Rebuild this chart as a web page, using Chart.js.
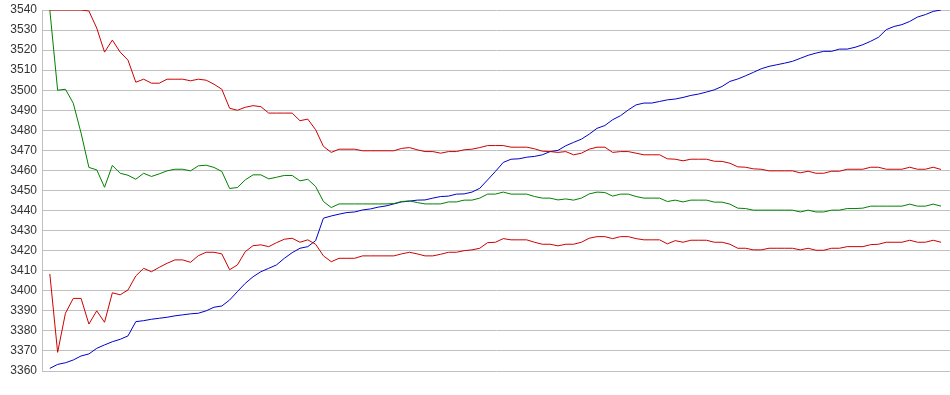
<!DOCTYPE html>
<html>
<head>
<meta charset="utf-8">
<script src="https://cdn.jsdelivr.net/npm/chart.js@4"></script>
<style>
  html, body { margin: 0; padding: 0; background: #fff; }
  #wrap { width: 950px; height: 395px; }
</style>
</head>
<body>
<div id="wrap"><canvas id="chart" width="950" height="395"></canvas></div>
<script>
// y axis ticks
const yMin = 3360
const yMax = 3540
const yStep = 10

// series values, one per step (115 steps)
const redUpper = [
  3540, 3540, 3540, 3540, 3540, 3539.5, 3531, 3519, 3525, 3519,
  3515, 3504, 3505.5, 3503.5, 3503.5, 3505.5, 3505.5, 3505.5, 3504.7, 3505.5,
  3505, 3503, 3500.5, 3491, 3490, 3491.5, 3492.3, 3491.8, 3488.6, 3488.6,
  3488.6, 3488.6, 3484.8, 3485.6, 3480.3, 3472, 3469, 3470.6, 3470.6, 3470.6,
  3469.8, 3469.8, 3469.8, 3469.8, 3469.8, 3471, 3471.4, 3470.3, 3469.4, 3469.4,
  3468.6, 3469.4, 3469.4, 3470.3, 3470.6, 3471.4, 3472.4, 3472.4, 3472.4, 3471.6,
  3471.6, 3471.6, 3470.8, 3469.6, 3469.4, 3469, 3469.4, 3467.8, 3468.6, 3470.6,
  3471.6, 3471.6, 3469, 3469.4, 3469.4, 3468.6, 3467.8, 3467.8, 3467.8, 3465.8,
  3465.6, 3464.8, 3465.6, 3465.6, 3465.6, 3464.6, 3464.5, 3463.6, 3461.8, 3461.6,
  3460.8, 3460.6, 3459.8, 3459.8, 3459.8, 3459.8, 3458.8, 3459.6, 3458.6, 3458.6,
  3459.6, 3459.6, 3460.6, 3460.6, 3460.6, 3461.6, 3461.6, 3460.6, 3460.6, 3460.6,
  3461.6, 3460.6, 3460.6, 3461.6, 3460.5
]
const green = [
  3540, 3500, 3500.5, 3493.5, 3478.6, 3461.5, 3460.3, 3451.6, 3462.5, 3458.6,
  3457.6, 3455.6, 3458.6, 3457, 3458.3, 3459.8, 3460.6, 3460.6, 3459.8, 3462.3,
  3462.6, 3461.5, 3459.5, 3451, 3451.5, 3455.3, 3457.8, 3457.8, 3455.8, 3456.6,
  3457.5, 3457.5, 3454.8, 3455.6, 3452, 3444.5, 3441.5, 3443.3, 3443.3, 3443.3,
  3443.3, 3443.3, 3443.3, 3443.3, 3443.5, 3444.5, 3444.8, 3444, 3443.3, 3443.3,
  3443.3, 3444.3, 3444.3, 3445.2, 3445.2, 3446.2, 3448.2, 3448.2, 3449.2, 3448.2,
  3448.2, 3448.2, 3447, 3446.2, 3446.2, 3445.3, 3445.8, 3445.2, 3446.2, 3448.3,
  3449.2, 3449, 3447.2, 3448.2, 3448.2, 3447, 3446.2, 3446.2, 3446.2, 3444.5,
  3445.2, 3444.3, 3445.2, 3445.2, 3445.2, 3444.2, 3444.2, 3443.2, 3441.2, 3441,
  3440.2, 3440.2, 3440.2, 3440.2, 3440.2, 3440.2, 3439.3, 3440.2, 3439.3, 3439.3,
  3440.2, 3440.2, 3441, 3441, 3441.2, 3442.2, 3442.2, 3442.2, 3442.2, 3442.2,
  3443.2, 3442.2, 3442.2, 3443.2, 3442.2
]
const redLower = [
  3408.4, 3369.3, 3388.8, 3396.2, 3396.2, 3383.4, 3390, 3384.3, 3399, 3398,
  3400.4, 3407.4, 3411.2, 3409.5, 3411.7, 3413.7, 3415.4, 3415.4, 3414.2, 3417.5,
  3419.2, 3419.2, 3418.4, 3410.5, 3412.9, 3419.5, 3422.5, 3422.9, 3422, 3424,
  3425.7, 3426.2, 3424.2, 3425.4, 3423.2, 3417.4, 3414.5, 3416.2, 3416.2, 3416.2,
  3417.4, 3417.4, 3417.4, 3417.4, 3417.4, 3418.4, 3419.2, 3418.4, 3417.4, 3417.4,
  3418.2, 3419.2, 3419.2, 3420, 3420.4, 3421.2, 3424, 3424.2, 3426, 3425.4,
  3425.4, 3425.4, 3424.2, 3423.2, 3423.2, 3422.4, 3423.2, 3423.2, 3424.2, 3426.2,
  3427, 3427, 3426, 3427, 3427, 3426, 3425.4, 3425.4, 3425.4, 3423.4,
  3425, 3424.2, 3425.2, 3425.2, 3425.2, 3424.2, 3424.2, 3423.2, 3421.2, 3421.2,
  3420.4, 3420.4, 3421.2, 3421.2, 3421.2, 3421.2, 3420.4, 3421.2, 3420.2, 3420.2,
  3421.2, 3421.2, 3422, 3422, 3422, 3423, 3423.2, 3424.2, 3424.2, 3424.2,
  3425.2, 3424.2, 3424.2, 3425.2, 3424.2
]
const blue = [
  3361.3, 3363.3, 3364.1, 3365.5, 3367.5, 3368.5, 3371.3, 3373, 3374.6, 3375.8,
  3377.5, 3384.6, 3385.1, 3385.8, 3386.3, 3386.8, 3387.5, 3388, 3388.5, 3388.8,
  3390, 3391.8, 3392.4, 3395.4, 3399.6, 3403.7, 3407, 3409.5, 3411.2, 3412.9,
  3416.2, 3419, 3421.2, 3422, 3425, 3436.2, 3437.3, 3438.2, 3439, 3439.3,
  3440.3, 3440.8, 3441.7, 3442.3, 3443.3, 3444.3, 3444.7, 3445.2, 3445.3, 3446.2,
  3447, 3447.2, 3448.2, 3448.3, 3449.2, 3451.1, 3455.3, 3459.5, 3464, 3465.6,
  3465.8, 3466.6, 3467, 3467.8, 3469.4, 3470, 3472.3, 3474, 3475.6, 3478.1,
  3481, 3482.4, 3485.3, 3487.3, 3490.2, 3492.7, 3493.6, 3493.6, 3494.4, 3495.2,
  3495.6, 3496.4, 3497.4, 3498.1, 3499.1, 3500.2, 3501.9, 3504.4, 3505.6, 3507.2,
  3508.9, 3510.7, 3511.9, 3512.7, 3513.5, 3514.4, 3515.9, 3517.4, 3518.5, 3519.4,
  3519.4, 3520.5, 3520.5, 3521.4, 3522.7, 3524.4, 3526.4, 3530.2, 3531.8, 3532.7,
  3534.3, 3536.5, 3537.7, 3539.3, 3540
]

// turn a value list into {x, y} points (x = step index)
function toPoints(values) {
  return values.map((v, i) => ({ x: i, y: v }))
}

function line(values, color) {
  return {
    data: toPoints(values),
    borderColor: color,
    backgroundColor: color,
    borderWidth: 1,
    pointRadius: 0,
    tension: 0,
    fill: false
  }
}

Chart.defaults.font.family = "'Liberation Sans', Arial, sans-serif"
Chart.defaults.font.size = 12
Chart.defaults.color = '#333'

const chart = new Chart(document.getElementById('chart'), {
  type: 'line',
  data: {
    datasets: [
      line(redUpper, '#cc0000'),
      line(green, '#008000'),
      line(redLower, '#cc0000'),
      line(blue, '#0000cc')
    ]
  },
  options: {
    responsive: false,
    animation: false,
    layout: { padding: { top: 10, right: 0, bottom: 24, left: 0 } },
    plugins: {
      legend: { display: false },
      tooltip: { enabled: false }
    },
    scales: {
      x: {
        type: 'linear',
        display: false,
        min: -1,
        max: 115.15
      },
      y: {
        min: yMin,
        max: yMax,
        afterFit: function(scale) {
          scale.width = 42
          scale.paddingTop = 0
          scale.paddingBottom = 0
        },
        border: { display: true, color: '#c0c0c0' },
        grid: { color: '#c0c0c0', drawTicks: false },
        ticks: {
          stepSize: yStep,
          padding: 5,
          callback: function(v) { return String(v) }
        }
      }
    }
  }
})
</script>
</body>
</html>
